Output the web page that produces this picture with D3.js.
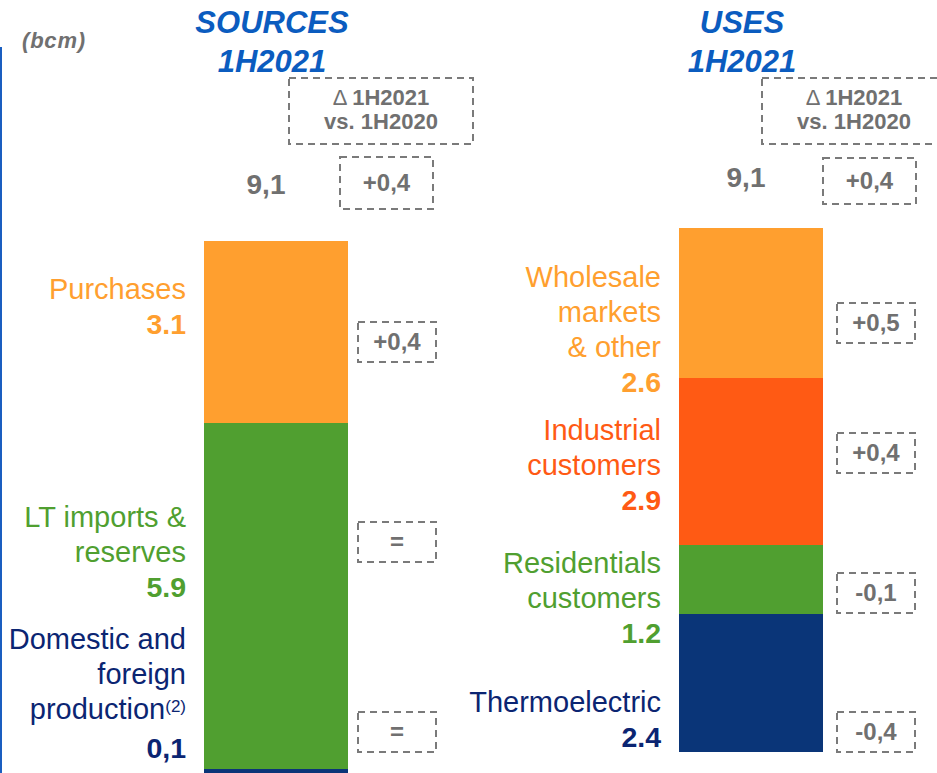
<!DOCTYPE html>
<html>
<head>
<meta charset="utf-8">
<script src="https://cdn.jsdelivr.net/npm/d3@7/dist/d3.min.js"></script>
<style>
  body { margin: 0; background: #fff; }
  text { font-family: "Liberation Sans", Arial, sans-serif; }
</style>
</head>
<body>
<svg id="chart" width="937" height="773"></svg>

<script>
// ---- data ----
const panels = ["SOURCES", "USES"]
const period = "1H2021"
const deltaHeader = ["1H2021", "vs. 1H2020"]
const totals = ["9,1", "9,1"]
const totalDeltas = ["+0,4", "+0,4"]

const sourceNames = [["Purchases"], ["LT imports &", "reserves"], ["Domestic and", "foreign", "production"]]
const sourceValues = [3.1, 5.9, 0.1]
const sourceValueLabels = ["3.1", "5.9", "0,1"]
const sourceDeltas = ["+0,4", "=", "="]

const useNames = [["Wholesale", "markets", "& other"], ["Industrial", "customers"], ["Residentials", "customers"], ["Thermoelectric"]]
const useValues = [2.6, 2.9, 1.2, 2.4]
const useValueLabels = ["2.6", "2.9", "1.2", "2.4"]
const useDeltas = ["+0,5", "+0,4", "-0,1", "-0,4"]

// ---- colours ----
const orange = "#ff9f2f", red = "#ff5a14", green = "#509f30", navy = "#0a3578", navyText = "#0b2572"
const grey = "#707070", blue = "#0b5cbf"

// ---- layout (not data) ----
const layout = [
  { names: sourceNames, values: sourceValues, valueLabels: sourceValueLabels, deltas: sourceDeltas,
    fills: [orange, green, navy], textFills: [orange, green, navyText], notes: [null, null, "(2)"],
    top: 241, bottom: 775, titleX: 272, labelBase: [299, 527, 649], deltaY: [342, 542, 732], deltaX: 397,
    hdrX: 289, totalX: 266, totalY: 194, totBox: [340, 157, 93, 52] },
  { names: useNames, values: useValues, valueLabels: useValueLabels, deltas: useDeltas,
    fills: [orange, red, green, navy], textFills: [orange, red, green, navyText], notes: [null, null, null, null],
    top: 228, bottom: 752, titleX: 742, labelBase: [287, 440, 573, 712], deltaY: [323, 453, 593, 732], deltaX: 876,
    hdrX: 762, totalX: 746, totalY: 187, totBox: [823, 158, 93, 46] }
]

const svg = d3.select("#chart")
const x = d3.scalePoint().domain(panels).range([276, 751])
const barW = 144
const lineH = 35

// left blue rule + unit
svg.append("line").attr("x1", 1).attr("x2", 1).attr("y1", 47).attr("y2", 773)
  .attr("stroke", "#1a5ec0").attr("stroke-width", 2)
svg.append("text").attr("x", 22).attr("y", 48).text("(bcm)")
  .attr("font-size", 22).attr("font-weight", "bold").attr("font-style", "italic")
  .attr("fill", grey).attr("letter-spacing", 0.8)

function dashedBox(g, bx, by, bw, bh) {
  g.append("rect").attr("x", bx).attr("y", by).attr("width", bw).attr("height", bh)
    .attr("fill", "none").attr("stroke", "#7a7a7a").attr("stroke-width", 2)
    .attr("stroke-dasharray", "7,5")
}

panels.forEach(function(name, pi) {
  const p = layout[pi]
  const g = svg.append("g")
  const cx = x(name)

  // titles
  g.append("text").attr("x", p.titleX).attr("y", 33).attr("text-anchor", "middle")
    .attr("font-size", 31).attr("font-weight", "bold").attr("font-style", "italic")
    .attr("fill", blue).text(name)
  g.append("text").attr("x", p.titleX).attr("y", 72).attr("text-anchor", "middle")
    .attr("font-size", 31).attr("font-weight", "bold").attr("font-style", "italic")
    .attr("fill", blue).text(period)

  // delta header
  dashedBox(g, p.hdrX, 78, 184, 66)
  const ht = g.append("text").attr("x", p.hdrX + 92).attr("text-anchor", "middle")
    .attr("font-size", 22).attr("font-weight", "bold").attr("fill", grey)
  const l1 = ht.append("tspan").attr("x", p.hdrX + 92).attr("y", 105)
  l1.append("tspan").attr("font-weight", "normal").text("Δ ")
  l1.append("tspan").text(deltaHeader[0])
  ht.append("tspan").attr("x", p.hdrX + 92).attr("y", 129).text(deltaHeader[1])

  // total
  g.append("text").attr("x", p.totalX).attr("y", p.totalY).attr("text-anchor", "middle")
    .attr("font-size", 28).attr("font-weight", "bold").attr("fill", grey).text(totals[pi])
  const tb = p.totBox
  dashedBox(g, tb[0], tb[1], tb[2], tb[3])
  g.append("text").attr("x", tb[0] + tb[2] / 2).attr("y", tb[1] + tb[3] / 2 + 8)
    .attr("text-anchor", "middle").attr("font-size", 24).attr("font-weight", "bold")
    .attr("fill", grey).text(totalDeltas[pi])

  // stacked bar
  const y = d3.scaleLinear().domain([0, d3.sum(p.values)]).range([p.top, p.bottom])
  const ends = Array.from(d3.cumsum(p.values))
  const segs = p.values.map(function(v, i) {
    return { i: i, v: v, y0: ends[i] - v, y1: ends[i] }
  })

  g.selectAll("rect.seg").data(segs).join("rect")
    .attr("class", "seg")
    .attr("x", cx - barW / 2).attr("width", barW)
    .attr("y", d => y(d.y0)).attr("height", d => y(d.y1) - y(d.y0))
    .attr("fill", d => p.fills[d.i])
    .attr("shape-rendering", "crispEdges")

  // labels
  const labelX = cx - barW / 2 - 18
  segs.forEach(function(d) {
    const lines = p.names[d.i]
    const t = g.append("text").attr("text-anchor", "end").attr("font-size", 29)
      .attr("fill", p.textFills[d.i])
    lines.forEach(function(ln, li) {
      const ts = t.append("tspan").attr("x", labelX).attr("y", p.labelBase[d.i] + li * lineH).text(ln)
      if (li === lines.length - 1 && p.notes[d.i]) {
        ts.append("tspan").attr("font-size", 17).attr("dy", -7).text(p.notes[d.i])
      }
    })
    const extra = p.notes[d.i] ? 4 : 0
    g.append("text").attr("x", labelX).attr("y", p.labelBase[d.i] + lines.length * lineH + extra)
      .attr("text-anchor", "end").attr("font-size", 28.5).attr("font-weight", "bold")
      .attr("fill", p.textFills[d.i]).text(p.valueLabels[d.i])

    // delta box
    const bx = p.deltaX - 39, by = p.deltaY[d.i] - 20
    dashedBox(g, bx, by, 78, 40)
    g.append("text").attr("x", p.deltaX).attr("y", p.deltaY[d.i] + 8)
      .attr("text-anchor", "middle").attr("font-size", 24).attr("font-weight", "bold")
      .attr("fill", grey).text(p.deltas[d.i])
  })
})
</script>
</body>
</html>
